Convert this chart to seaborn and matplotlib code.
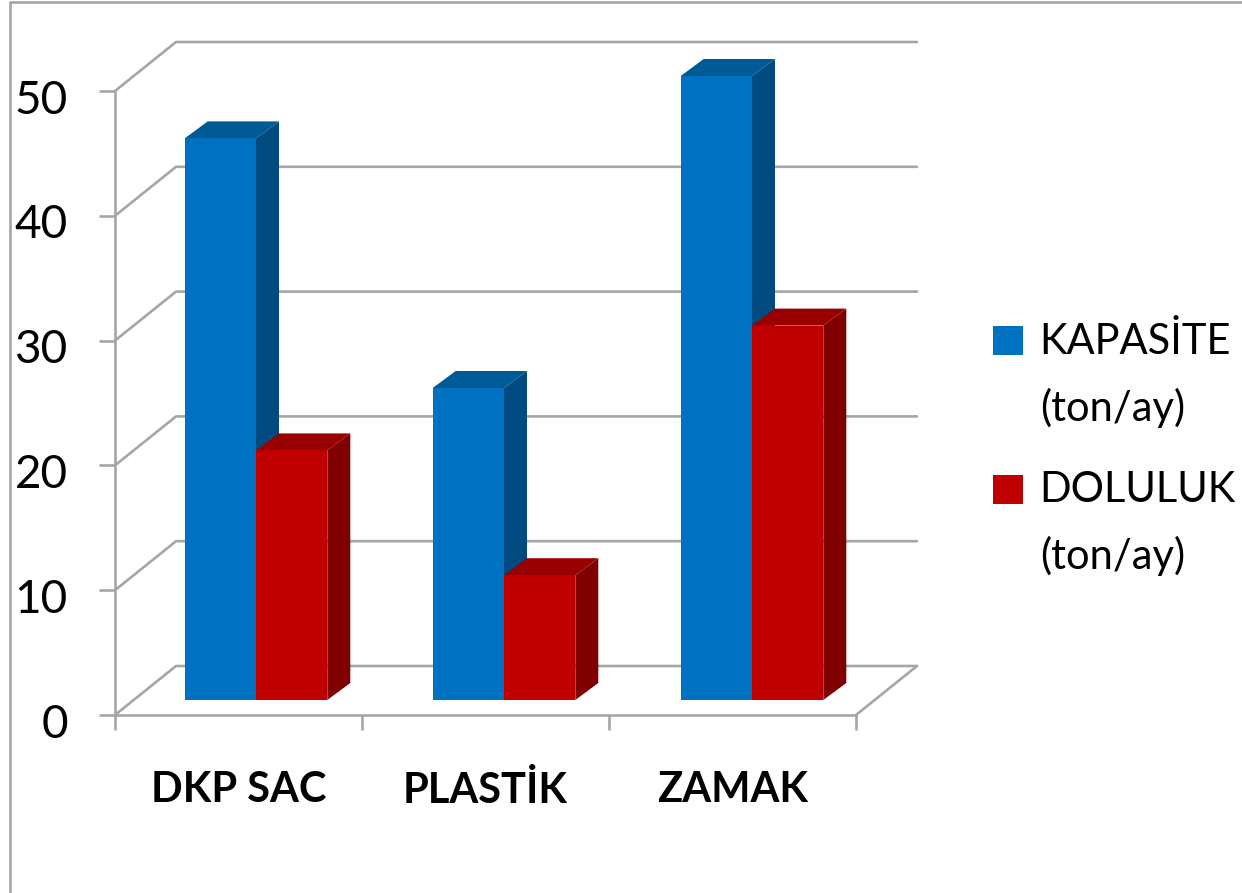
import pandas as pd
import matplotlib.pyplot as plt
import seaborn as sns
from matplotlib.legend_handler import HandlerPatch
from matplotlib.lines import Line2D
from matplotlib.patches import Polygon, Rectangle
from matplotlib.transforms import ScaledTranslation

categories = ["DKP SAC", "PLASTİK", "ZAMAK"]
series_names = ["KAPASİTE\n(ton/ay)", "DOLULUK\n(ton/ay)"]
kapasite = [45, 25, 50]
doluluk = [20, 10, 30]
y_ticks = [0, 10, 20, 30, 40, 50]

FRONT_COLORS = ["#0070C0", "#C00000"]
SIDE_COLORS = ["#004A80", "#800000"]
TOP_COLORS = ["#005A96", "#990000"]
GRAY = "#A6A6A6"
LINE_W = 1.9
W, H = 1242, 893

data = pd.DataFrame({
    "category": categories * 2,
    "series": [series_names[0]] * 3 + [series_names[1]] * 3,
    "value": kapasite + doluluk,
})

sns.set_theme(style="white")
plt.rcParams["font.family"] = ["Lato", "DejaVu Sans"]

fig = plt.figure(figsize=(W / 100, H / 100), dpi=100)


def pixel_box(left, right, top, bottom):
    return [left / W, (H - bottom) / H, (right - left) / W, (bottom - top) / H]


# Front plane of the 3D box: carries the axes, ticks and wall lines
ax = fig.add_axes(pixel_box(115, 856, 91, 715))
ax.set_xlim(-0.5, 2.5)
ax.set_ylim(0, 50)
ax.patch.set_alpha(0)
for side in ["top", "right"]:
    ax.spines[side].set_visible(False)
for side in ["left", "bottom"]:
    ax.spines[side].set_color(GRAY)
    ax.spines[side].set_linewidth(LINE_W)

ax.set_yticks(y_ticks)
ax.set_yticklabels([str(t) for t in y_ticks], fontsize=33, color="black")
ax.tick_params(axis="y", which="major", left=True, length=11.5, width=LINE_W, color=GRAY, pad=22.5)
# the numbers sit a few pixels below their ticks
for label in ax.get_yticklabels():
    label.set_transform(label.get_transform() + ScaledTranslation(0, -5.5 / 100, fig.dpi_scale_trans))

ax.set_xticks([-0.5, 0.5, 1.5, 2.5])
ax.set_xticklabels([])
ax.set_xticks([0, 1, 2], labels=categories, minor=True, fontsize=30, fontweight="bold", color="black")
ax.tick_params(axis="x", which="major", bottom=True, length=10.8, width=LINE_W, color=GRAY)
ax.tick_params(axis="x", which="minor", bottom=False, length=0, pad=40)

# Receding wall and floor lines
wall_dx = 61 / 247
wall_dy = 49 / 12.48
for t in y_ticks:
    ax.plot([-0.5, -0.5 + wall_dx, 2.5 + wall_dx], [t, t + wall_dy, t + wall_dy],
            color=GRAY, lw=LINE_W, clip_on=False, zorder=1)
ax.plot([2.5, 2.5 + wall_dx], [0, wall_dy], color=GRAY, lw=LINE_W, clip_on=False, zorder=1)

# Bars stand a little behind the front plane, so they get their own axes
bar_ax = fig.add_axes(pixel_box(132, 876, 76, 700))
bar_ax.patch.set_alpha(0)
sns.barplot(
    data=data,
    x="category",
    y="value",
    hue="series",
    order=categories,
    hue_order=series_names,
    palette=FRONT_COLORS,
    width=0.575,
    gap=0,
    saturation=1,
    linewidth=0,
    ax=bar_ax,
    zorder=3,
)
bar_ax.set_xlim(-0.5, 2.5)
bar_ax.set_ylim(0, 50)
bar_ax.axis("off")

# Side and top faces follow the bars seaborn drew
bar_dx = 23 / 248
bar_dy = 17 / 12.48
for i, container in enumerate(bar_ax.containers):
    for bar in container:
        x0 = bar.get_x()
        x1 = x0 + bar.get_width()
        h = bar.get_height()
        bar_ax.add_patch(Polygon(
            [(x1, 0), (x1 + bar_dx, bar_dy), (x1 + bar_dx, h + bar_dy), (x1, h)],
            facecolor=SIDE_COLORS[i], edgecolor="none", clip_on=False, zorder=1 + i,
        ))
        bar_ax.add_patch(Polygon(
            [(x0, h), (x0 + bar_dx, h + bar_dy), (x1 + bar_dx, h + bar_dy), (x1, h)],
            facecolor=TOP_COLORS[i], edgecolor="none", clip_on=False, zorder=1 + i,
        ))


# Legend squares line up with the first line of each two line label
def first_line_square(legend, orig_handle, xdescent, ydescent, width, height, fontsize):
    return Rectangle((-xdescent, -ydescent + 25.2), width, height)


handles, labels = bar_ax.get_legend_handles_labels()
bar_ax.get_legend().remove()
legend = fig.legend(
    handles, labels,
    loc="upper left",
    bbox_to_anchor=(993 / W, (H - 322) / H),
    frameon=False,
    fontsize=30,
    handlelength=0.72,
    handleheight=0.7,
    handletextpad=0.4,
    labelspacing=1.04,
    borderpad=0,
    borderaxespad=0,
    labelcolor="black",
    handler_map={Rectangle: HandlerPatch(patch_func=first_line_square)},
)
for text in legend.get_texts():
    text.set_linespacing(1.8)

# Chart area border
fig.add_artist(Line2D([10 / W, 10 / W, 1], [0, (H - 1.5) / H, (H - 1.5) / H], color=GRAY, lw=LINE_W))

plt.savefig("out.png", dpi=100)
